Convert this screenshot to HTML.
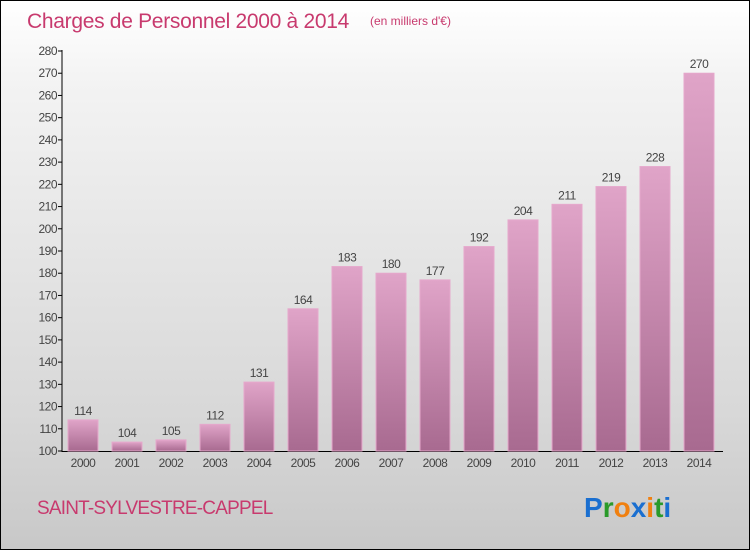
<!DOCTYPE html>
<html><head><meta charset="utf-8"><style>
body{margin:0;width:750px;height:550px;overflow:hidden;font-family:"Liberation Sans",sans-serif}
#c{position:absolute;left:0;top:0;width:748px;height:548px;border:1px solid #000;background:linear-gradient(#ffffff,#f3f3f3 15%,#d8d8d8 75%,#c8c8c8)}
</style></head><body>
<div id="c">
<svg width="748" height="548" style="position:absolute;left:0;top:0">
<defs><linearGradient id="g" x1="0" y1="0" x2="0" y2="1"><stop offset="0" stop-color="#e0a4c8"/><stop offset="1" stop-color="#a86a90"/></linearGradient></defs>
<text x="26" y="27" font-size="21" fill="#c83a6e" letter-spacing="-0.3">Charges de Personnel 2000 à 2014</text>
<text x="369" y="24" font-size="12" fill="#c83a6e">(en milliers d'€)</text>
<g id="ax"></g><g id="bars"></g>
<text x="36" y="513" font-size="19" fill="#c83a6e" letter-spacing="-0.8">SAINT-SYLVESTRE-CAPPEL</text>
<text x="583" y="516" font-size="28" font-weight="bold"><tspan fill="#1a6fd0">P</tspan><tspan fill="#2a9a2a">r</tspan><tspan fill="#f08010">o</tspan><tspan fill="#1a6fd0">x</tspan><tspan fill="#f08010">i</tspan><tspan fill="#2a9a2a">t</tspan><tspan fill="#1a6fd0">i</tspan></text>
</svg></div>
<script>
const years=["2000","2001","2002","2003","2004","2005","2006","2007","2008","2009","2010","2011","2012","2013","2014"];
const values=[114,104,105,112,131,164,183,180,177,192,204,211,219,228,270];
const ticks=[100,110,120,130,140,150,160,170,180,190,200,210,220,230,240,250,260,270,280];
const NS="http://www.w3.org/2000/svg";
const y=v=>450-(v-100)*400/180, x=i=>82+i*44;
function mk(t,a,p,txt){const e=document.createElementNS(NS,t);for(const k in a)e.setAttribute(k,a[k]);if(txt!==undefined)e.textContent=txt;p.appendChild(e);return e;}
const ax=document.getElementById('ax'),bg=document.getElementById('bars');
let l=mk('line',{x1:61,y1:49,x2:61,y2:451,stroke:'#000'},ax);


l=mk('line',{x1:61,y1:450.5,x2:722,y2:450.5,stroke:'#000'},ax);


ticks.forEach(t=>{mk('line',{x1:57,x2:61,y1:y(t),y2:y(t),stroke:'#000'},ax);
const e=mk('text',{x:56,y:y(t)+4,'font-size':12,'text-anchor':'end',fill:'#444','letter-spacing':'-0.5'},ax,t);

});
years.forEach((yr,i)=>{const v=values[i];
const r=mk('rect',{x:x(i)-15,y:y(v),width:30,height:450-y(v),fill:'url(#g)',stroke:'#e6a8cc','stroke-width':1},bg);


const t=mk('text',{x:x(i),y:y(v)-5,'font-size':12,'text-anchor':'middle',fill:'#444','letter-spacing':'-0.5'},bg,v);


const xl=mk('text',{x:x(i),y:466,'font-size':12,'text-anchor':'middle',fill:'#444','letter-spacing':'-0.5'},bg,yr);

});
</script>
</body></html>
